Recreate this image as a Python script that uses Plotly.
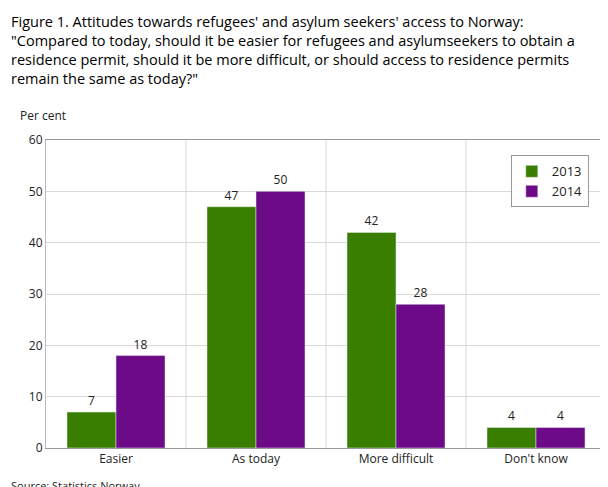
import plotly.graph_objects as go

categories = ["Easier", "As today", "More difficult", "Don't know"]
values_2013 = [7, 47, 42, 4]
values_2014 = [18, 50, 28, 4]
series_names = ["2013", "2014"]
colors = ["#3a7e00", "#6c0a87"]

title = ("Figure 1. Attitudes towards refugees' and asylum seekers' access to Norway:<br>"
         "\"Compared to today, should it be easier for refugees and asylumseekers to obtain a<br>"
         "residence permit, should it be more difficult, or should access to residence permits<br>"
         "remain the same as today?\"")

fig = go.Figure()
for name, vals, c in zip(series_names, [values_2013, values_2014], colors):
    fig.add_trace(go.Bar(
        name=name, x=categories, y=vals, marker_color=c,
        text=vals, textposition="outside", cliponaxis=False,
        textfont=dict(size=12, color="#222")))

# vertical separators between categories
for xpos in [0.5, 1.5, 2.5]:
    fig.add_shape(type="line", xref="x", yref="paper", x0=xpos, x1=xpos,
                  y0=0, y1=1, line=dict(color="#d9d9d9", width=1), layer="below")

fig.update_layout(
    width=608, height=487,
    font=dict(family="Open Sans", size=12, color="#222"),
    paper_bgcolor="white", plot_bgcolor="white",
    margin=dict(l=38, r=10, t=132, b=47),
    barmode="group", bargap=0.3, bargroupgap=0,
    showlegend=True,
    legend=dict(x=0.83, y=0.95, xanchor="left", yanchor="top",
                bordercolor="#999", borderwidth=1, bgcolor="white",
                font=dict(size=13)),
    annotations=[
        dict(text=title, xref="paper", yref="paper", x=-0.066, y=1.422,
             xanchor="left", yanchor="top", align="left", showarrow=False,
             font=dict(size=14.5, color="#000")),
        dict(text="Per cent", xref="paper", yref="paper", x=-0.05, y=1.081,
             xanchor="left", yanchor="middle", showarrow=False, font=dict(size=12)),
        dict(text="Source: Statistics Norway.", xref="paper", yref="paper",
             x=-0.066, y=-0.123, xanchor="left", yanchor="middle", showarrow=False,
             font=dict(size=11)),
    ],
)
fig.update_yaxes(range=[0, 60], dtick=10, gridcolor="#d9d9d9", showline=True,
                 linecolor="#bbb", mirror=True, zeroline=False, ticks="")
fig.update_xaxes(showline=True, linecolor="#999", mirror=True, ticks="",
                 tickfont=dict(size=12))

fig.write_html("out.html")
